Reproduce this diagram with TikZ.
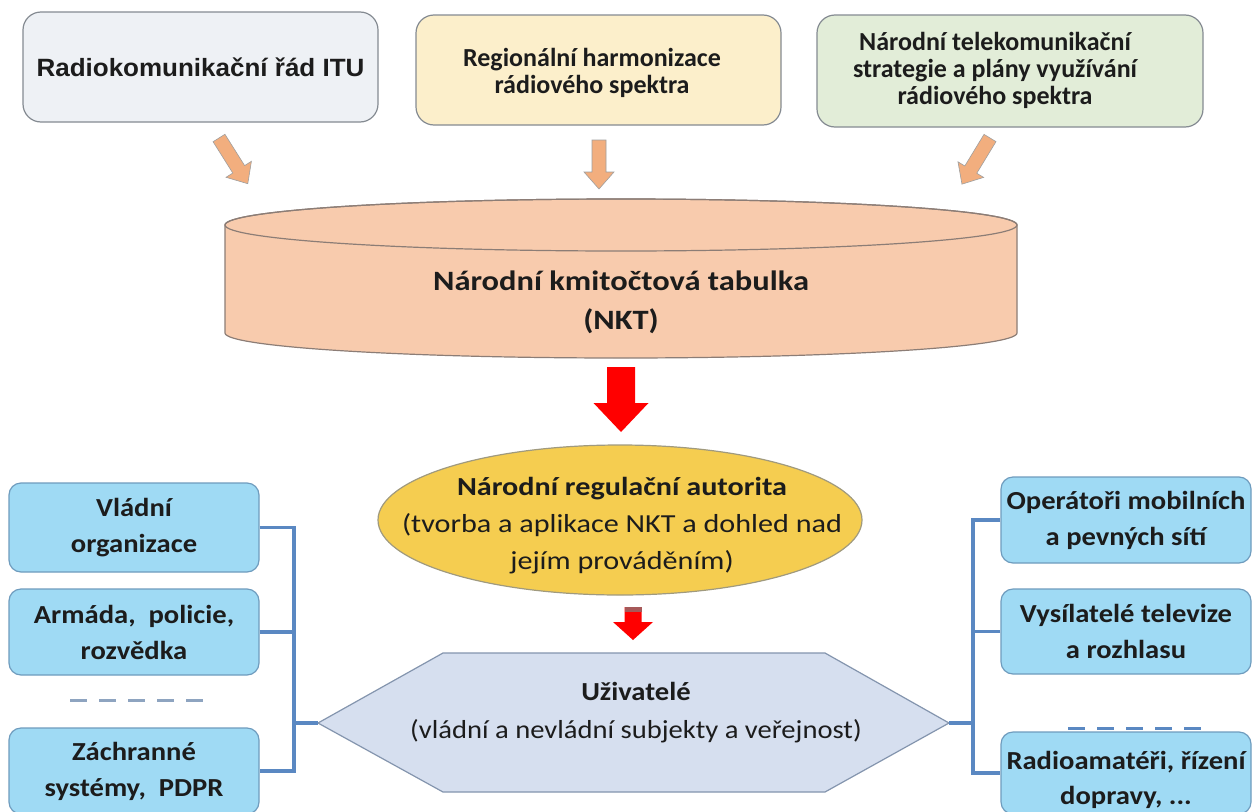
\documentclass[tikz,border=0pt]{standalone}
\usepackage{fontspec}
\setmainfont{Carlito}
\newfontfamily\arialfont[FakeStretch=1.04]{Liberation Sans}
\newfontfamily\wideA[FakeStretch=1.1]{Carlito}
\newfontfamily\wideB[FakeStretch=1.16]{Carlito}
\usetikzlibrary{shapes.geometric}

\definecolor{boxgrey}{HTML}{EEF1F5}
\definecolor{boxyellow}{HTML}{FCEFCB}
\definecolor{boxgreen}{HTML}{E2EDD8}
\definecolor{edgegrey}{HTML}{858B92}
\definecolor{peach}{HTML}{F8CBAD}
\definecolor{peachedge}{HTML}{8C7D76}
\definecolor{gold}{HTML}{F5CD50}
\definecolor{goldedge}{HTML}{A09A7E}
\definecolor{hexfill}{HTML}{D6DFEF}
\definecolor{hexedge}{HTML}{8495AE}
\definecolor{sky}{HTML}{9FDAF4}
\definecolor{skyedge}{HTML}{6F9CBE}
\definecolor{wire}{HTML}{5A88C2}
\definecolor{dashgrey}{HTML}{8EA4C0}
\definecolor{orangearrow}{HTML}{F2AE7E}
\definecolor{ink}{HTML}{1C1C1C}

% block arrow: start point, angle, length, shaft half width, head half width, head length, style
\newcommand{\blockarrow}[7]{%
  \path[#7, shift={#1}, rotate=#2]
    (0,-#4) -- ({#3-#6},-#4) -- ({#3-#6},-#5) -- (#3,0)
    -- ({#3-#6},#5) -- ({#3-#6},#4) -- (0,#4) -- cycle;}

\begin{document}
\begin{tikzpicture}[x=1pt,y=1pt,
  topbox/.style={draw=edgegrey, line width=1.2pt, rounded corners=18pt,
    align=center, text=ink, inner sep=0pt},
  toptext/.style={align=center, text=ink, font={\bfseries\fontsize{26}{27}\selectfont}},
  sidebox/.style={draw=skyedge, fill=sky, line width=1.2pt, rounded corners=12pt,
    align=center, text=ink, inner sep=0pt, minimum width=250pt,
    font={\wideA\bfseries\fontsize{26}{36}\selectfont}},
  sidetext/.style={align=center, text=ink, font={\wideA\bfseries\fontsize{26}{35}\selectfont}},
  conn/.style={draw=wire, line width=3.2pt},
  orangeblk/.style={fill=orangearrow, draw=gray!75, line width=0.6pt},
  redblk/.style={fill=red}
]
\useasboundingbox (0,0) rectangle (1252,-811);
\fill[white] (0,0) rectangle (1252,-811);
\begin{scope}
\clip (0,0) rectangle (1252,-811);

% sources
\node[topbox, fill=boxgrey, minimum width=355pt, minimum height=110pt,
  font={\arialfont\bfseries\fontsize{25}{27}\selectfont}] (itu) at (200.5,-67)
  {Radiokomunikační řád ITU};
\node[topbox, fill=boxyellow, minimum width=365pt, minimum height=110pt] (reg) at (598.5,-70) {};
\node[toptext] (regT) at (592,-73) {Regionální harmonizace\\rádiového spektra};
\node[topbox, fill=boxgreen, minimum width=386pt, minimum height=112pt] (nat) at (1010,-71) {};
\node[toptext] (natT) at (995,-70) {Národní telekomunikační\\strategie a plány využívání\\rádiového spektra};

% inputs into the frequency table
\blockarrow{(219,-138)}{-57.8}{54}{7}{15}{17}{orangeblk}
\blockarrow{(599,-140)}{-90}{49}{7}{15}{17}{orangeblk}
\blockarrow{(990,-138)}{-121.3}{54}{7}{15}{17}{orangeblk}

% frequency table cylinder
\filldraw[fill=peach, draw=peachedge, line width=1.2pt]
  (225,-225) -- (225,-333) arc[start angle=180, end angle=360, x radius=396, y radius=25]
  -- (1017,-225) arc[start angle=0, end angle=180, x radius=396, y radius=26] -- cycle;
\draw[peachedge, line width=1.2pt] (621,-225) ellipse [x radius=396, y radius=26];
\node[align=center, text=ink, font={\wideB\bfseries\fontsize{28}{39}\selectfont}] (nkt)
  at (621,-302) {Národní kmitočtová tabulka\\(NKT)};

\blockarrow{(621,-367)}{-90}{65}{14}{27.5}{29}{redblk}

% regulator
\node[ellipse, draw=goldedge, fill=gold, line width=1.2pt, minimum width=484pt,
  minimum height=150pt, inner sep=0pt] (nra) at (620,-520) {};
\node[align=center, text=ink, font={\wideB\fontsize{26}{37}\selectfont}] (nraT) at (622,-526)
  {{\bfseries Národní regulační autorita}\\(tvorba a aplikace NKT a dohled nad\\jejím prováděním)};

\blockarrow{(633,-607)}{-90}{33}{8.5}{20}{18}{redblk}
\fill[gray!70!red] (624.5,-607) rectangle (641.5,-612);

% users
\coordinate (hexL) at (318,-723);
\coordinate (hexR) at (949,-723);
\filldraw[fill=hexfill, draw=hexedge, line width=1.2pt]
  (hexL) -- (443,-653) -- (825,-653) -- (hexR) -- (825,-792) -- (443,-792) -- cycle;
\node[align=center, text=ink, font={\wideA\fontsize{26}{38}\selectfont}] (usr) at (636,-713)
  {{\bfseries Uživatelé}\\(vládní a nevládní subjekty a veřejnost)};

% user groups, left
\node[sidebox, minimum height=89pt] (l1) at (134,-527.5) {Vládní\\organizace};
\node[sidebox, minimum height=86pt] (l2) at (134,-632) {Armáda,~ policie,\\rozvědka};
\draw[dashgrey, line width=3pt, dash pattern=on 17pt off 12pt] (70,-700) -- (206,-700);
\node[sidebox, minimum height=86pt] (l3) at (134,-771) {Záchranné\\systémy,~ PDPR};

% user groups, right
\node[sidebox, minimum height=86pt] (r1) at (1126,-520) {Operátoři mobilních\\a pevných sítí};
\node[sidebox, minimum height=85pt] (r2) at (1126,-631.5) {Vysílatelé televize\\a rozhlasu};
\draw[wire, line width=3pt, dash pattern=on 17pt off 12pt] (1068,-728) -- (1204,-728);
\node[sidebox, minimum height=82pt] (r3) at (1126,-773) {};
\node[sidetext] (r3T) at (1126,-780) {Radioamatéři, řízení\\dopravy, ...};

% wiring
\coordinate (lbus) at (294,0);
\coordinate (rbus) at (973,0);
\draw[conn] (l1.east) -- (l1.east -| lbus) -- (l3.east -| lbus) -- (l3.east);
\draw[conn] (l2.east) -- (l2.east -| lbus);
\draw[conn] (hexL) -- (hexL -| lbus);
\draw[conn] (r1.west) -- (r1.west -| rbus) -- (r3.west -| rbus) -- (r3.west);
\draw[conn] (r2.west) -- (r2.west -| rbus);
\draw[conn] (hexR) -- (hexR -| rbus);
\end{scope}
\end{tikzpicture}
\end{document}
